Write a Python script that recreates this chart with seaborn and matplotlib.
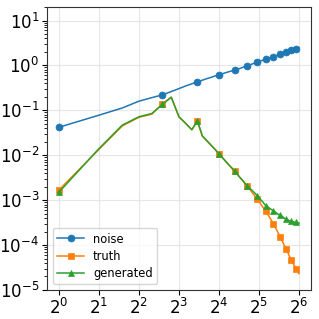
import matplotlib
matplotlib.use("Agg")
from matplotlib import pyplot as plt
import matplotlib.ticker as plticker
import seaborn as sns
import numpy as np
import pandas as pd

# values (x = 1..64)
steps = list(range(1, 65))
xtick_powers = [0, 1, 2, 3, 4, 5, 6]
ytick_powers = [-5, -4, -3, -2, -1, 0, 1]

noise = [0.042, 0.078, 0.113, 0.16, 0.192, 0.221, 0.262, 0.305, 0.35, 0.39,
         0.433, 0.47, 0.51, 0.545, 0.585, 0.62, 0.655, 0.69, 0.725, 0.755,
         0.787, 0.825, 0.86, 0.9, 0.94, 0.98, 1.02, 1.06, 1.1, 1.15,
         1.19, 1.23, 1.27, 1.3, 1.34, 1.38, 1.42, 1.45, 1.49, 1.52,
         1.56, 1.6, 1.64, 1.68, 1.72, 1.76, 1.8, 1.85, 1.89, 1.94,
         1.98, 2.01, 2.05, 2.09, 2.12, 2.16, 2.2, 2.24, 2.28, 2.32,
         2.36, 2.4, 2.44, 2.48]

truth = [0.00168, 0.0135, 0.045, 0.07, 0.082, 0.139, 0.196, 0.0715, 0.051, 0.037,
         0.059, 0.0265, 0.0207, 0.0164, 0.0133, 0.0107, 0.0088, 0.0073, 0.0061, 0.00516,
         0.0044, 0.00375, 0.0032, 0.00277, 0.0024, 0.0021, 0.00181, 0.00157, 0.00137, 0.0012,
         0.00106, 0.00093, 0.00082, 0.00072, 0.00063, 0.00056, 0.000495, 0.000437, 0.000386, 0.00034,
         0.0003, 0.000263, 0.00023, 0.000202, 0.000177, 0.000155, 0.000137, 0.000121, 0.000106, 9.4e-5,
         8.3e-5, 7.4e-5, 6.55e-5, 5.8e-5, 5.2e-5, 4.6e-5, 4.2e-5, 3.8e-5, 3.5e-5, 3.2e-5,
         2.9e-5, 2.7e-5, 2.5e-5, 2.3e-5]

generated = [0.0015, 0.014, 0.047, 0.072, 0.085, 0.135, 0.196, 0.072, 0.051, 0.037,
             0.058, 0.027, 0.021, 0.0166, 0.0134, 0.0106, 0.0088, 0.0073, 0.0061, 0.0052,
             0.0044, 0.0038, 0.0032, 0.0028, 0.0024, 0.0021, 0.0019, 0.00171, 0.00155, 0.0014,
             0.00126, 0.00114, 0.00102, 0.00093, 0.00083, 0.00075, 0.00071, 0.00068, 0.00064, 0.00061,
             0.00058, 0.00055, 0.00053, 0.0005, 0.00048, 0.000457, 0.00044, 0.00043, 0.00041, 0.00039,
             0.00038, 0.00037, 0.00036, 0.00035, 0.00034, 0.000335, 0.00033, 0.00033, 0.000325, 0.00032,
             0.00032, 0.000315, 0.000312, 0.00031]

series = {"noise": noise, "truth": truth, "generated": generated}
markers = {"noise": "o", "truth": "s", "generated": "^"}
colors = {"noise": "#1f77b4", "truth": "#ff7f0e", "generated": "#2ca02c"}

df = pd.concat([pd.DataFrame({"step": steps, "value": v, "name": k}) for k, v in series.items()])

fig, ax = plt.subplots(figsize=(3.19, 3.19), dpi=100)
fig.subplots_adjust(left=0.147, right=0.975, bottom=0.091, top=0.978)

for name in series:
    sns.lineplot(data=df[df["name"] == name], x="step", y="value", ax=ax,
                 color=colors[name], marker=markers[name], markevery=5,
                 markersize=5, markeredgecolor=colors[name], markeredgewidth=0.5,
                 linewidth=1.1, label=name)

ax.set_xscale("log", base=2)
ax.set_yscale("log")
ax.xaxis.set_major_locator(plticker.FixedLocator([2.0 ** p for p in xtick_powers]))
ax.xaxis.set_major_formatter(plticker.LogFormatterSciNotation(base=2))
ax.xaxis.set_minor_locator(plticker.NullLocator())
ax.yaxis.set_major_locator(plticker.FixedLocator([10.0 ** p for p in ytick_powers]))
ax.yaxis.set_minor_formatter(plticker.NullFormatter())
ax.set_ylim(1e-5, 20)
ax.set_xlabel("")
ax.set_ylabel("")
ax.tick_params(labelsize=12, pad=2)
ax.grid(True, which="major", color="#e6e6e6", linewidth=0.8)
for s in ax.spines.values():
    s.set_color("#333333")
ax.legend(loc="lower left", fontsize=8.3, handlelength=2.3, labelspacing=0.35)

plt.savefig("out.png", dpi=100)
